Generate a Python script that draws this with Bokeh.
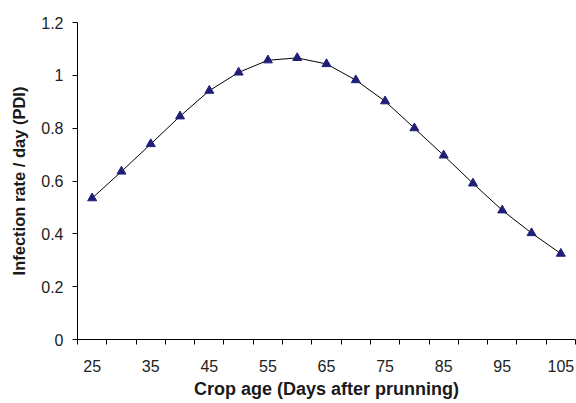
from bokeh.plotting import figure
from bokeh.models import Range1d, FixedTicker, CustomJSTickFormatter
from bokeh.embed import file_html
from bokeh.resources import INLINE

# Data
crop_age = [25, 30, 35, 40, 45, 50, 55, 60, 65, 70, 75, 80, 85, 90, 95, 100, 105]
infection_rate = [0.535, 0.636, 0.740, 0.845, 0.942, 1.011, 1.057, 1.066, 1.043,
                  0.982, 0.902, 0.800, 0.697, 0.591, 0.489, 0.403, 0.325]
x_tick_labels = [25, 35, 45, 55, 65, 75, 85, 95, 105]
y_ticks = [0, 0.2, 0.4, 0.6, 0.8, 1.0, 1.2]

step = crop_age[1] - crop_age[0]
x_lo = crop_age[0] - step / 2
x_hi = crop_age[-1] + step / 2
boundaries = [x_lo + i * step for i in range(len(crop_age) + 1)]

p = figure(width=576, height=403, output_backend="svg", toolbar_location=None,
           x_range=Range1d(x_lo, x_hi), y_range=Range1d(0, 1.2),
           min_border_left=77, min_border_right=1, min_border_top=22,
           min_border_bottom=64)
p.outline_line_color = None
p.grid.visible = False
p.background_fill_color = "white"
p.border_fill_color = "white"

p.line(crop_age, infection_rate, line_color="black", line_width=1)
p.scatter(crop_age, infection_rate, marker="triangle", size=9,
          fill_color="#1f1f78", line_color="#1f1f78")

font = "Liberation Sans"

xa = p.xaxis[0]
xa.ticker = FixedTicker(ticks=x_tick_labels, minor_ticks=boundaries)
xa.major_tick_line_color = None
xa.major_tick_out = 5
xa.major_tick_in = 0
xa.minor_tick_out = 5
xa.minor_tick_in = 0
xa.minor_tick_line_color = "black"
xa.axis_line_color = "black"
xa.major_label_text_font = font
xa.major_label_text_font_size = "16px"
xa.major_label_text_color = "#222222"
xa.major_label_standoff = 15
xa.axis_label = "Crop age (Days after prunning)"
xa.axis_label_text_font = font
xa.axis_label_text_font_size = "18px"
xa.axis_label_text_font_style = "bold"
xa.axis_label_text_color = "#1a1a1a"
xa.axis_label_standoff = 4

ya = p.yaxis[0]
ya.ticker = FixedTicker(ticks=y_ticks, minor_ticks=[])
ya.formatter = CustomJSTickFormatter(code="return tick.toFixed(1).replace(/\\.0$/, '');")
ya.major_tick_out = 5
ya.major_tick_in = 0
ya.major_tick_line_color = "black"
ya.axis_line_color = "black"
ya.major_label_text_font = font
ya.major_label_text_font_size = "16px"
ya.major_label_text_color = "#222222"
ya.major_label_standoff = 9
ya.axis_label = "Infection rate / day (PDI)"
ya.axis_label_text_font = font
ya.axis_label_text_font_size = "16.5px"
ya.axis_label_text_font_style = "bold"
ya.axis_label_text_color = "#1a1a1a"
ya.axis_label_standoff = 10

open("out.html", "w").write(file_html(p, INLINE))
